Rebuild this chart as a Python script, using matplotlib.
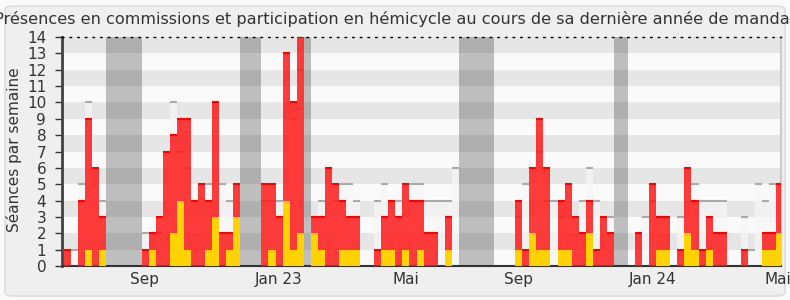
import numpy as np
import matplotlib
matplotlib.use("Agg")
import matplotlib.pyplot as plt
from matplotlib.patches import FancyBboxPatch

# weekly values (week index 0..101)
commission = [1, 0, 4, 9, 6, 3, 0, 0, 0, 0, 0, 1, 2, 3, 7, 8, 9, 9, 4, 5,
              4, 10, 2, 2, 5, 0, 0, 0, 5, 5, 3, 13, 10, 14, 0, 3, 3, 6, 5, 4,
              3, 3, 0, 0, 1, 3, 4, 3, 5, 4, 4, 2, 2, 0, 3, 0, 0, 0, 0, 0,
              0, 0, 0, 0, 4, 1, 6, 9, 6, 0, 4, 5, 3, 2, 4, 1, 3, 2, 0, 0,
              0, 2, 0, 5, 3, 3, 0, 1, 6, 4, 1, 3, 2, 2, 0, 0, 1, 0, 0, 2,
              2, 5]
hemicycle = [0, 0, 0, 1, 0, 1, 0, 0, 0, 0, 0, 0, 1, 0, 0, 2, 4, 1, 0, 0,
             1, 3, 0, 1, 3, 0, 0, 0, 0, 1, 0, 4, 1, 2, 0, 2, 1, 0, 0, 1,
             1, 1, 0, 0, 0, 1, 1, 0, 1, 0, 1, 0, 0, 0, 1, 0, 0, 0, 0, 0,
             0, 0, 0, 0, 1, 0, 2, 1, 1, 0, 1, 1, 0, 0, 2, 0, 0, 0, 0, 0,
             0, 0, 0, 0, 1, 1, 0, 0, 2, 1, 0, 1, 0, 0, 0, 0, 0, 0, 0, 1,
             1, 2]
presence = [0, 1, 5, 10, 5, 4, 0, 0, 0, 0, 0, 2, 0, 2, 0, 10, 7, 6, 0, 0,
            5, 0, 5, 4, 0, 0, 0, 0, 4, 4, 4, 0, 9, 12, 0, 0, 4, 0, 4, 5,
            5, 4, 0, 0, 4, 5, 0, 4, 0, 5, 5, 4, 4, 4, 4, 6, 0, 0, 0, 0,
            0, 0, 0, 0, 3, 5, 0, 7, 4, 4, 3, 0, 0, 4, 6, 4, 0, 3, 0, 0,
            0, 0, 3, 4, 0, 0, 0, 3, 0, 5, 4, 4, 4, 4, 0, 0, 3, 1, 5, 4,
            5, 0]
vacances = [(-0.4, 0), (6, 11), (25, 28), (34, 35), (56, 61), (78, 80)]
tick_pos = [11.35, 30.4, 48.5, 64.4, 83.5, 101.3]
tick_labels = ["Sep", "Jan 23", "Mai", "Sep", "Jan 24", "Mai"]

weeks = np.arange(len(commission))
commission = np.array(commission)
hemicycle = np.array(hemicycle)
presence = np.array(presence)

fig = plt.figure(figsize=(7.9, 3.0), dpi=100)
fig.patch.set_facecolor("#fafafa")
fig.patches.append(FancyBboxPatch((5 / 790, 4 / 300), 780 / 790, 290 / 300,
                                  boxstyle="round,pad=0,rounding_size=0.012",
                                  transform=fig.transFigure, facecolor="#efefef",
                                  edgecolor="#dedede", lw=1.2, zorder=-5))

ax = fig.add_axes([61.5 / 790, 34 / 300, 719 / 790, 229 / 300])
ax.set_xlim(-0.36, 101.63)
ax.set_ylim(0, 14)

# bandes horizontales
for i in range(14):
    ax.axhspan(i, i + 1, color="#e6e6e6" if i % 2 else "#fafafa", lw=0, zorder=0)

# vacances
for a, b in vacances:
    ax.axvspan(a, b, color="black", alpha=0.24, lw=0, zorder=1)

# presence (gris clair)
m = presence > 0
ax.bar(weeks[m], presence[m], width=1, align="edge", color="#f6f6f6", alpha=0.75, lw=0, zorder=2)
ax.hlines(presence[m], weeks[m], weeks[m] + 1, color="#aaaaaa", lw=1.5, zorder=2)

# commissions (rouge)
m = commission > 0
ax.bar(weeks[m], commission[m], width=1, align="edge", color="#ff1a1a", alpha=0.85, lw=0, zorder=3)
ax.hlines(commission[m], weeks[m], weeks[m] + 1, color="#ff0000", lw=1.5, zorder=3)

# hemicycle (jaune)
m = hemicycle > 0
ax.bar(weeks[m], hemicycle[m], width=1, align="edge", color="#ffd200", lw=0, zorder=4)

ax.set_yticks(range(15))
ax.set_xticks(tick_pos)
ax.set_xticklabels(tick_labels)
ax.tick_params(axis="y", length=5, width=1, pad=6, labelsize=11, colors="#333333")
ax.tick_params(axis="x", length=0, pad=4, labelsize=11, colors="#333333")

ax.spines["top"].set_linestyle((0, (1, 4.5)))
ax.spines["top"].set_color("black")
ax.spines["top"].set_linewidth(1.0)
ax.spines["right"].set_color("#cccccc")
ax.spines["right"].set_linewidth(1.5)
ax.spines["left"].set_color("#444444")
ax.spines["left"].set_linewidth(2)
ax.spines["bottom"].set_color("#333333")
ax.spines["bottom"].set_linewidth(1.5)

fig.text(0.5, 0.92, "Présences en commissions et participation en hémicycle au cours de sa dernière année de mandat",
         ha="center", va="baseline", fontsize=11.6, color="#333333")
fig.text(0.018, 0.5, "Séances par semaine", rotation=90, ha="center", va="center",
         fontsize=11, color="#333333")

fig.savefig("out.png", dpi=100, facecolor=fig.get_facecolor())
